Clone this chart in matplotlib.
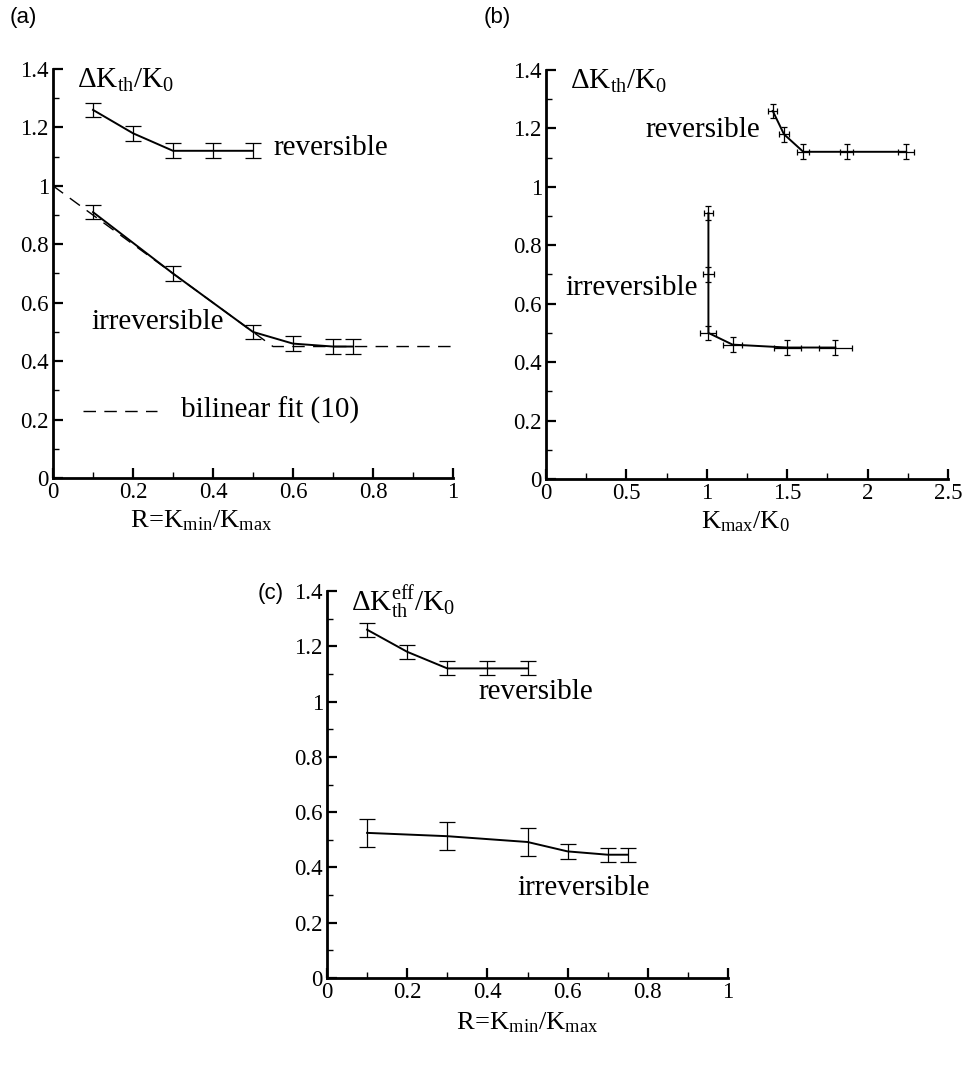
import matplotlib
matplotlib.use("Agg")
import matplotlib.pyplot as plt
from matplotlib.ticker import MultipleLocator, FuncFormatter

plt.rcParams['font.family'] = ['Liberation Serif', 'DejaVu Serif']
plt.rcParams['mathtext.fontset'] = 'custom'
plt.rcParams['mathtext.rm'] = 'Liberation Serif'
plt.rcParams['mathtext.it'] = 'Liberation Serif:italic'

# ---- data: panel (a) and (c) x values ----
R_rev = [0.1, 0.2, 0.3, 0.4, 0.5]
dK_rev = [1.26, 1.18, 1.12, 1.12, 1.12]
dK_rev_err = [0.025, 0.025, 0.025, 0.025, 0.025]

R_irr = [0.1, 0.3, 0.5, 0.6, 0.7, 0.75]
dK_irr = [0.91, 0.70, 0.50, 0.46, 0.45, 0.45]
dK_irr_err = [0.025, 0.025, 0.025, 0.025, 0.025, 0.025]

# bilinear fit (10)
fit_x = [0.0, 0.55, 1.0]
fit_y = [1.0, 0.45, 0.45]

# ---- panel (b) ----
Kmax_rev = [1.41, 1.48, 1.60, 1.87, 2.24]
Kmax_rev_err = [0.028, 0.031, 0.036, 0.042, 0.05]
Kmax_irr = [1.01, 1.01, 1.01, 1.16, 1.50, 1.80]
Kmax_irr_err = [0.028, 0.036, 0.05, 0.062, 0.083, 0.10]

# ---- panel (c) ----
dKeff_irr = [0.525, 0.513, 0.492, 0.458, 0.446, 0.446]
dKeff_irr_err = [0.052, 0.051, 0.052, 0.026, 0.025, 0.025]

W, H = 963, 1072
fig = plt.figure(figsize=(W / 100, H / 100), dpi=100)

def box(l, r, t, b):
    return [l / W, 1 - b / H, (r - l) / W, (b - t) / H]

axa = fig.add_axes(box(53, 453, 69, 478))
axb = fig.add_axes(box(546, 948, 70, 479))
axc = fig.add_axes(box(327, 728, 591, 978))

fmt = FuncFormatter(lambda v, p: ('%g' % round(v, 3)))

def style(ax, xmax, xmaj, xmin):
    ax.set_xlim(0, xmax)
    ax.set_ylim(0, 1.4)
    for s in ['top', 'right']:
        ax.spines[s].set_visible(False)
    for s in ['left', 'bottom']:
        ax.spines[s].set_linewidth(2.0)
    ax.xaxis.set_major_locator(MultipleLocator(xmaj))
    ax.xaxis.set_minor_locator(MultipleLocator(xmin))
    ax.yaxis.set_major_locator(MultipleLocator(0.2))
    ax.yaxis.set_minor_locator(MultipleLocator(0.1))
    ax.xaxis.set_major_formatter(fmt)
    ax.yaxis.set_major_formatter(fmt)
    ax.tick_params(which='major', direction='in', length=7, width=1.6,
                   labelsize=16.5, pad=3)
    ax.tick_params(which='minor', direction='in', length=4, width=1.0)
    ax.patch.set_alpha(0)

lw = 1.4
ekw = dict(color='black', lw=lw, elinewidth=0.9, capsize=6, capthick=0.9)
dash = (0, (9, 6))

# ---------- (a) ----------
style(axa, 1.0, 0.2, 0.1)
axa.plot(fit_x, fit_y, color='black', lw=1.0, ls=dash)
axa.errorbar(R_rev, dK_rev, yerr=dK_rev_err, **ekw)
axa.errorbar(R_irr, dK_irr, yerr=dK_irr_err, **ekw)
axa.plot([0.075, 0.26], [0.23, 0.23], color='black', lw=1.0, ls=dash)
axa.text(0.32, 0.23, 'bilinear fit (10)', fontsize=21, va='center', ha='left')
axa.text(0.55, 1.13, 'reversible', fontsize=21, va='center', ha='left')
axa.text(0.095, 0.535, 'irreversible', fontsize=21, va='center', ha='left')
axa.text(0.06, 1.36, r'$\mathrm{\Delta K_{th}/K_0}$', fontsize=21, va='center', ha='left')
axa.text(0.37, -0.145, r'$\mathrm{R\!=\!K_{min}/K_{max}}$', fontsize=19,
         va='center', ha='center')
fig.text(10 / W, 1 - 18 / H, '(a)', fontsize=16, family='Liberation Sans', va='center', ha='left')

# ---------- (b) ----------
style(axb, 2.5, 0.5, 0.25)
ekwb = dict(color='black', lw=lw, elinewidth=0.9, capsize=2.5, capthick=0.9)
axb.errorbar(Kmax_rev, dK_rev, xerr=Kmax_rev_err, yerr=dK_rev_err, **ekwb)
axb.errorbar(Kmax_irr, dK_irr, xerr=Kmax_irr_err, yerr=dK_irr_err, **ekwb)
axb.text(0.62, 1.195, 'reversible', fontsize=21, va='center', ha='left')
axb.text(0.12, 0.655, 'irreversible', fontsize=21, va='center', ha='left')
axb.text(0.15, 1.36, r'$\mathrm{\Delta K_{th}/K_0}$', fontsize=21, va='center', ha='left')
axb.text(1.24, -0.145, r'$\mathrm{K_{max}/K_0}$', fontsize=19, va='center', ha='center')
fig.text(484 / W, 1 - 18 / H, '(b)', fontsize=16, family='Liberation Sans', va='center', ha='left')

# ---------- (c) ----------
style(axc, 1.0, 0.2, 0.1)
axc.errorbar(R_rev, dK_rev, yerr=dK_rev_err, **ekw)
axc.errorbar(R_irr, dKeff_irr, yerr=dKeff_irr_err, **ekw)
axc.text(0.377, 1.036, 'reversible', fontsize=21, va='center', ha='left')
axc.text(0.474, 0.326, 'irreversible', fontsize=21, va='center', ha='left')
axc.text(0.06, 1.36, r'$\mathrm{\Delta K_{th}^{eff}/K_0}$', fontsize=21, va='center', ha='left')
axc.text(0.5, -0.16, r'$\mathrm{R\!=\!K_{min}/K_{max}}$', fontsize=19, va='center', ha='center')
fig.text(258 / W, 1 - 593 / H, '(c)', fontsize=16, family='Liberation Sans', va='center', ha='left')

fig.savefig('out.png', dpi=100)
